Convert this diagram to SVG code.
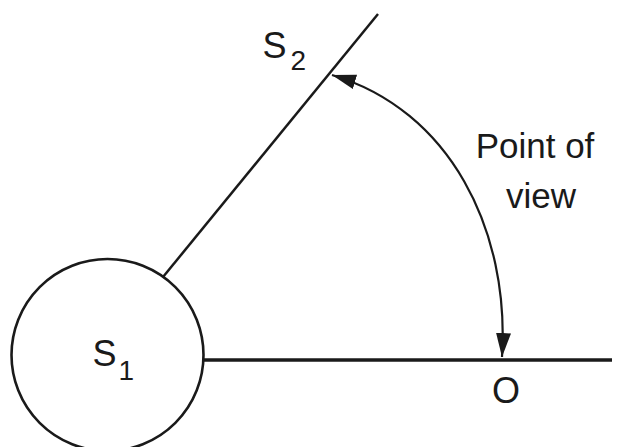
<svg xmlns="http://www.w3.org/2000/svg" width="619" height="447" viewBox="0 0 619 447">
  <style>
    .ln { fill: none; stroke: #1a1a1a; stroke-linecap: butt; }
    .lbl { font-family: "Liberation Sans", Arial, sans-serif; fill: #1a1a1a; }
  </style>
  <defs>
    <marker id="ah" markerUnits="userSpaceOnUse" markerWidth="26" markerHeight="16" viewBox="0 -8 26 16" refX="24" refY="0" orient="auto-start-reverse">
      <path d="M0,-7.5 L24,0 L0,7.5 Z" fill="#1a1a1a"/>
    </marker>
  </defs>
  <rect width="619" height="447" fill="#ffffff"/>
  <g id="connectors">
    <line class="ln" x1="163" y1="277" x2="378" y2="14" stroke-width="2.5"/>
    <line class="ln" x1="203" y1="360" x2="612" y2="360" stroke-width="3.3"/>
    <path class="ln" d="M332,75 C450,110 510,230 502,357" stroke-width="2.2" marker-start="url(#ah)" marker-end="url(#ah)"/>
  </g>
  <g id="node-S1">
    <circle cx="107.5" cy="355" r="96" fill="none" stroke="#1a1a1a" stroke-width="2.6"/>
    <text class="lbl" x="92.6" y="366" font-size="36">S</text>
    <text class="lbl" x="118.5" y="380" font-size="28">1</text>
  </g>
  <g id="node-S2">
    <text class="lbl" x="262.6" y="58" font-size="36">S</text>
    <text class="lbl" x="290.5" y="70" font-size="28">2</text>
  </g>
  <g id="node-O">
    <text class="lbl" x="506" y="403" font-size="36" text-anchor="middle">O</text>
  </g>
  <g id="label-point-of-view">
    <text class="lbl" x="535" y="158" font-size="35" text-anchor="middle">Point of</text>
    <text class="lbl" x="541" y="208" font-size="35" text-anchor="middle">view</text>
  </g>
</svg>
